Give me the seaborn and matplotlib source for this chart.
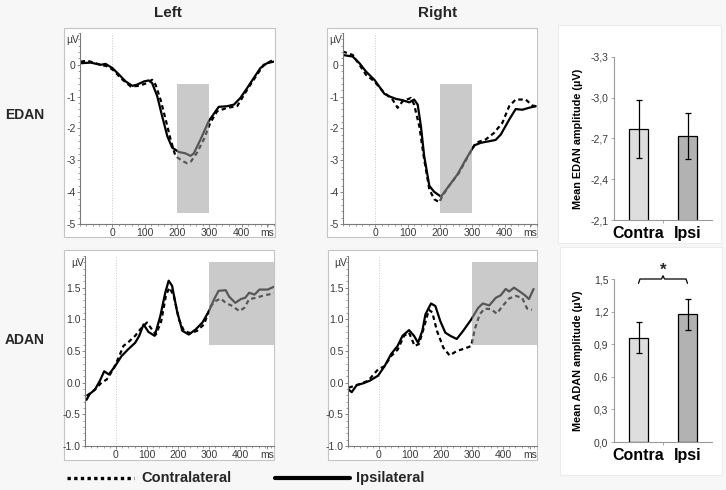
import numpy as np
import pandas as pd
import matplotlib
matplotlib.use("Agg")
import matplotlib.pyplot as plt
from matplotlib.patches import Rectangle
from matplotlib.lines import Line2D
from matplotlib.ticker import MultipleLocator
import seaborn as sns

# ============================================================================
# Data
# ============================================================================

# EDAN, left hemifield
tl_ipsi_t = [-98, -67, -36, -21, 0, 21, 41, 62, 77, 98, 113, 123, 139, 154, 170, 185,
             206, 226, 242, 252, 273, 298, 329, 355, 376, 396, 417, 437, 458, 478, 499]
tl_ipsi_v = [0.05, 0.07, 0.0, 0.03, -0.1, -0.31, -0.52, -0.66, -0.62, -0.52, -0.49, -0.57,
             -0.99, -1.61, -2.24, -2.6, -2.74, -2.78, -2.86, -2.78, -2.34, -1.77, -1.32,
             -1.3, -1.25, -1.04, -0.73, -0.42, -0.1, 0.05, 0.1]
tl_contra_t = [-98, -77, -46, -15, 5, 26, 57, 82, 108, 123, 134, 149, 165, 180, 195, 216,
               231, 242, 262, 283, 303, 324, 355, 386, 417, 437, 468, 499]
tl_contra_v = [0.1, 0.13, 0.03, -0.05, -0.18, -0.42, -0.68, -0.66, -0.57, -0.47, -0.63,
               -1.09, -1.72, -2.34, -2.86, -3.02, -3.09, -3.05, -2.76, -2.34, -1.82, -1.46,
               -1.35, -1.3, -0.78, -0.47, 0.0, 0.16]

# EDAN, right hemifield
tr_ipsi_t = [-101, -70, -49, -29, -3, 12, 28, 43, 64, 84, 105, 120, 131, 141, 151, 167,
             182, 203, 228, 254, 280, 306, 326, 352, 372, 388, 414, 434, 455, 475, 496]
tr_ipsi_v = [0.31, 0.26, 0.05, -0.21, -0.47, -0.68, -0.91, -0.99, -1.07, -1.11, -1.18,
             -1.09, -1.25, -1.93, -2.86, -3.8, -3.99, -4.14, -3.8, -3.44, -2.97, -2.53,
             -2.45, -2.4, -2.36, -2.19, -1.72, -1.39, -1.41, -1.35, -1.3]
tr_contra_t = [-101, -70, -49, -29, -3, 23, 53, 69, 84, 110, 120, 136, 151, 167, 182, 198,
               208, 228, 259, 290, 311, 342, 367, 393, 414, 434, 465, 486, 498]
tr_contra_v = [0.42, 0.31, 0.0, -0.31, -0.52, -0.83, -1.09, -1.35, -1.15, -1.04, -1.25,
               -1.93, -2.97, -3.91, -4.22, -4.32, -4.11, -3.8, -3.39, -2.81, -2.45, -2.34,
               -2.14, -1.82, -1.3, -1.09, -1.09, -1.28, -1.3]

# ADAN, left hemifield
bl_ipsi_t = [-95, -85, -68, -52, -38, -23, -3, 18, 40, 62, 75, 89, 105, 125, 143, 159, 170,
             181, 197, 214, 235, 257, 279, 300, 317, 331, 354, 365, 385, 403, 417, 430,
             447, 463, 490, 512]
bl_ipsi_v = [-0.27, -0.18, -0.11, 0.03, 0.18, 0.13, 0.26, 0.42, 0.53, 0.63, 0.74, 0.92,
             0.8, 0.74, 1.05, 1.42, 1.61, 1.53, 1.13, 0.82, 0.76, 0.84, 0.95, 1.13, 1.32,
             1.45, 1.46, 1.36, 1.26, 1.32, 1.34, 1.42, 1.39, 1.47, 1.47, 1.52]
bl_contra_t = [-95, -68, -47, -30, -9, 8, 24, 40, 62, 78, 100, 116, 129, 146, 161, 172,
               186, 203, 219, 241, 262, 284, 306, 322, 338, 354, 376, 398, 414, 430, 452,
               479, 512]
bl_contra_v = [-0.21, -0.11, 0.0, 0.05, 0.21, 0.39, 0.58, 0.64, 0.74, 0.84, 0.95, 0.84,
               0.76, 0.97, 1.37, 1.5, 1.38, 1.0, 0.82, 0.78, 0.82, 0.92, 1.21, 1.29, 1.33,
               1.26, 1.21, 1.13, 1.18, 1.32, 1.34, 1.38, 1.41]

# ADAN, right hemifield
br_ipsi_t = [-98, -88, -72, -51, -30, -3, 18, 39, 60, 76, 97, 113, 126, 140, 150, 168, 182,
             198, 214, 230, 251, 272, 298, 320, 335, 356, 377, 393, 409, 420, 436, 457,
             471, 484, 499]
br_ipsi_v = [-0.11, -0.15, -0.04, -0.01, 0.03, 0.11, 0.26, 0.45, 0.58, 0.74, 0.83, 0.74,
             0.63, 0.82, 1.08, 1.25, 1.21, 0.97, 0.79, 0.74, 0.69, 0.82, 1.0, 1.18, 1.25,
             1.22, 1.34, 1.38, 1.48, 1.44, 1.5, 1.43, 1.38, 1.32, 1.48]
br_contra_t = [-98, -67, -35, -3, 18, 39, 60, 81, 97, 115, 129, 145, 161, 172, 187, 208,
               228, 251, 277, 298, 309, 325, 341, 362, 380, 399, 420, 441, 462, 478, 494]
br_contra_v = [-0.08, -0.03, 0.03, 0.21, 0.26, 0.42, 0.52, 0.74, 0.79, 0.58, 0.61, 0.87,
               1.15, 1.11, 0.82, 0.55, 0.43, 0.5, 0.54, 0.58, 0.84, 1.08, 1.17, 1.16, 1.09,
               1.21, 1.33, 1.37, 1.34, 1.17, 1.15]

# Mean amplitudes (bar charts)
conditions = ["Contra", "Ipsi"]
edan_mean = [-2.77, -2.72]
edan_err = [0.21, 0.17]
adan_mean = [0.96, 1.175]
adan_err = [0.14, 0.145]

edan_ticks = [-3.3, -3.0, -2.7, -2.4, -2.1]
adan_ticks = [0.0, 0.3, 0.6, 0.9, 1.2, 1.5]

# ============================================================================
# Figure settings
# ============================================================================

sns.set_theme(style="white")
plt.rcParams["font.family"] = ["Liberation Sans", "DejaVu Sans"]

W, H = 726, 490
BG = "#f7f7f7"
TICK_COL = "#3a3a3a"
SPINE_COL = "#7a7a7a"

fig = plt.figure(figsize=(W / 100, H / 100), dpi=100, facecolor=BG)


def box(l, t, r, b):
    # pixel box (top-left origin) -> figure fractions
    return [l / W, 1 - b / H, (r - l) / W, (b - t) / H]


def frame(l, t, r, b, edge="#c4c4c4"):
    fig.patches.append(Rectangle((l / W, 1 - b / H), (r - l) / W, (b - t) / H,
                                 transform=fig.transFigure, facecolor="white",
                                 edgecolor=edge, linewidth=0.8, zorder=-1))


# ============================================================================
# ERP panels
# ============================================================================

def erp_panel(ax, t_ipsi, v_ipsi, t_contra, v_contra, ylim, yticks, ylabels,
              xmax, shade, ms_pos, minor_y):
    sns.lineplot(x=t_contra, y=v_contra, ax=ax, color="black", linewidth=1.6,
                 linestyle=(0, (2, 1.5)), zorder=2)
    sns.lineplot(x=t_ipsi, y=v_ipsi, ax=ax, color="black", linewidth=1.6, zorder=2)

    ax.axvline(0, color="#c8c8c8", linewidth=0.7, linestyle=":", zorder=1)
    ax.add_patch(Rectangle((shade[0], shade[2]), shade[1] - shade[0], shade[3] - shade[2],
                           facecolor="#a0a0a0", alpha=0.55, linewidth=0, zorder=3))

    ax.set_xlim(-100, xmax)
    ax.set_ylim(*ylim)
    ax.set_yticks(yticks)
    ax.set_yticklabels(ylabels)
    ax.set_xticks([0, 100, 200, 300, 400, ms_pos])
    ax.set_xticklabels(["0", "100", "200", "300", "400", "ms"])
    ax.xaxis.set_minor_locator(MultipleLocator(20))
    ax.yaxis.set_minor_locator(MultipleLocator(minor_y))

    ax.set_facecolor("white")
    for s in ["top", "right"]:
        ax.spines[s].set_visible(False)
    for s in ["left", "bottom"]:
        ax.spines[s].set_color(SPINE_COL)
        ax.spines[s].set_linewidth(0.8)
    ax.tick_params(which="major", length=2, width=0.6, color=SPINE_COL,
                   labelsize=7.5, labelcolor=TICK_COL, pad=1,
                   left=True, bottom=True)
    ax.tick_params(which="minor", length=1.3, width=0.5, color=SPINE_COL,
                   left=True, bottom=True)
    ax.set_xlabel("")
    ax.set_ylabel("")
    ax.text(-0.005, 0.965, "µV", transform=ax.transAxes, ha="right", va="center",
            fontsize=7.5, color=TICK_COL)


top_ticks = [0, -1, -2, -3, -4, -5]
top_labels = ["0", "-1", "-2", "-3", "-4", "-5"]
bot_ticks = [-1.0, -0.5, 0.0, 0.5, 1.0, 1.5]
bot_labels = ["-1.0", "-0.5", "0.0", "0.5", "1.0", "1.5"]

frame(64, 28, 275, 237)
frame(327, 28, 537, 237)
frame(64, 250, 274, 460)
frame(328, 250, 537, 460)

ax_tl = fig.add_axes(box(80, 33, 274, 224))
erp_panel(ax_tl, tl_ipsi_t, tl_ipsi_v, tl_contra_t, tl_contra_v, (-5, 1.0),
          top_ticks, top_labels, 500, (200, 300, -4.65, -0.6), 478, 0.2)

ax_tr = fig.add_axes(box(343, 33, 537, 224))
erp_panel(ax_tr, tr_ipsi_t, tr_ipsi_v, tr_contra_t, tr_contra_v, (-5, 1.0),
          top_ticks, top_labels, 500, (200, 300, -4.65, -0.6), 478, 0.2)

ax_bl = fig.add_axes(box(85, 256, 274, 446))
erp_panel(ax_bl, bl_ipsi_t, bl_ipsi_v, bl_contra_t, bl_contra_v, (-1.0, 2.0),
          bot_ticks, bot_labels, 510, (300, 510, 0.6, 1.9), 487, 0.1)

ax_br = fig.add_axes(box(348, 256, 537, 446))
erp_panel(ax_br, br_ipsi_t, br_ipsi_v, br_contra_t, br_contra_v, (-1.0, 2.0),
          bot_ticks, bot_labels, 510, (300, 510, 0.6, 1.9), 487, 0.1)

# ============================================================================
# Bar panels
# ============================================================================

bar_colors = ["#dedede", "#b2b2b2"]


def bar_panel(ax, means, errs, ylim, yticks, ylabel):
    df = pd.DataFrame({"cond": conditions, "amp": means})
    sns.barplot(data=df, x="cond", y="amp", hue="cond", palette=bar_colors,
                legend=False, width=0.4, edgecolor="black", linewidth=0.9, ax=ax)
    ax.errorbar([0, 1], means, yerr=errs, fmt="none", ecolor="black",
                elinewidth=0.9, capsize=2.5, capthick=0.9, zorder=5)
    ax.set_xlim(-0.5, 1.5)
    ax.set_ylim(*ylim)
    ax.set_yticks(yticks)
    ax.set_yticklabels([f"{v:.1f}".replace(".", ",") for v in yticks])
    ax.set_xticks([0, 1])
    ax.set_xticklabels(conditions, fontsize=11.5, fontweight="bold", color="black")
    ax.set_xticks([0.5], minor=True)
    ax.set_xlabel("")
    ax.set_ylabel(ylabel, fontsize=7.8, fontweight="bold", color="black")
    ax.yaxis.set_label_coords(-0.32, 0.5)
    ax.set_facecolor("white")
    for s in ["top", "right"]:
        ax.spines[s].set_visible(False)
    for s in ["left", "bottom"]:
        ax.spines[s].set_color("#9a9a9a")
        ax.spines[s].set_linewidth(0.8)
    ax.tick_params(axis="y", length=2, width=0.6, color="#9a9a9a", labelsize=7.5,
                   labelcolor=TICK_COL, pad=2, left=True)
    ax.tick_params(axis="x", which="major", length=0, pad=4)
    ax.tick_params(axis="x", which="minor", length=2.5, width=0.6, color="#9a9a9a",
                   bottom=True)


frame(558, 25, 721, 243, edge="#ececec")
frame(560, 247, 722, 475, edge="#ececec")

ax_be = fig.add_axes(box(614, 57, 712, 220))
bar_panel(ax_be, edan_mean, edan_err, (-2.1, -3.3), edan_ticks,
          "Mean EDAN amplitude (µV)")

ax_ba = fig.add_axes(box(614, 279, 712, 442))
bar_panel(ax_ba, adan_mean, adan_err, (0.0, 1.5), adan_ticks,
          "Mean ADAN amplitude (µV)")

# significance bracket
ax_ba.plot([0, 0.03, 0.47, 0.5, 0.53, 0.97, 1.0],
           [1.46, 1.5, 1.5, 1.53, 1.5, 1.5, 1.46],
           color="black", linewidth=0.9, clip_on=False)
ax_ba.text(0.5, 1.58, "*", ha="center", va="center", fontsize=12,
           fontweight="bold", clip_on=False)

# ============================================================================
# Titles, row labels, legend
# ============================================================================

fig.text(168 / W, 1 - 13 / H, "Left", ha="center", va="center",
         fontsize=11, fontweight="bold")
fig.text(438 / W, 1 - 13 / H, "Right", ha="center", va="center",
         fontsize=11, fontweight="bold")
fig.text(25 / W, 1 - 115 / H, "EDAN", ha="center", va="center",
         fontsize=10, fontweight="bold")
fig.text(25 / W, 1 - 340 / H, "ADAN", ha="center", va="center",
         fontsize=10, fontweight="bold")

ly = 1 - 478 / H
fig.lines.append(Line2D([67 / W, 134 / W], [ly, ly], transform=fig.transFigure,
                        color="black", linewidth=2.4, linestyle=(0, (1, 1))))
fig.lines.append(Line2D([275 / W, 350 / W], [ly, ly], transform=fig.transFigure,
                        color="black", linewidth=3))
fig.text(141 / W, ly, "Contralateral", ha="left", va="center",
         fontsize=10.5, fontweight="bold")
fig.text(356 / W, ly, "Ipsilateral", ha="left", va="center",
         fontsize=10.5, fontweight="bold")

plt.savefig("out.png", dpi=100, facecolor=BG)
